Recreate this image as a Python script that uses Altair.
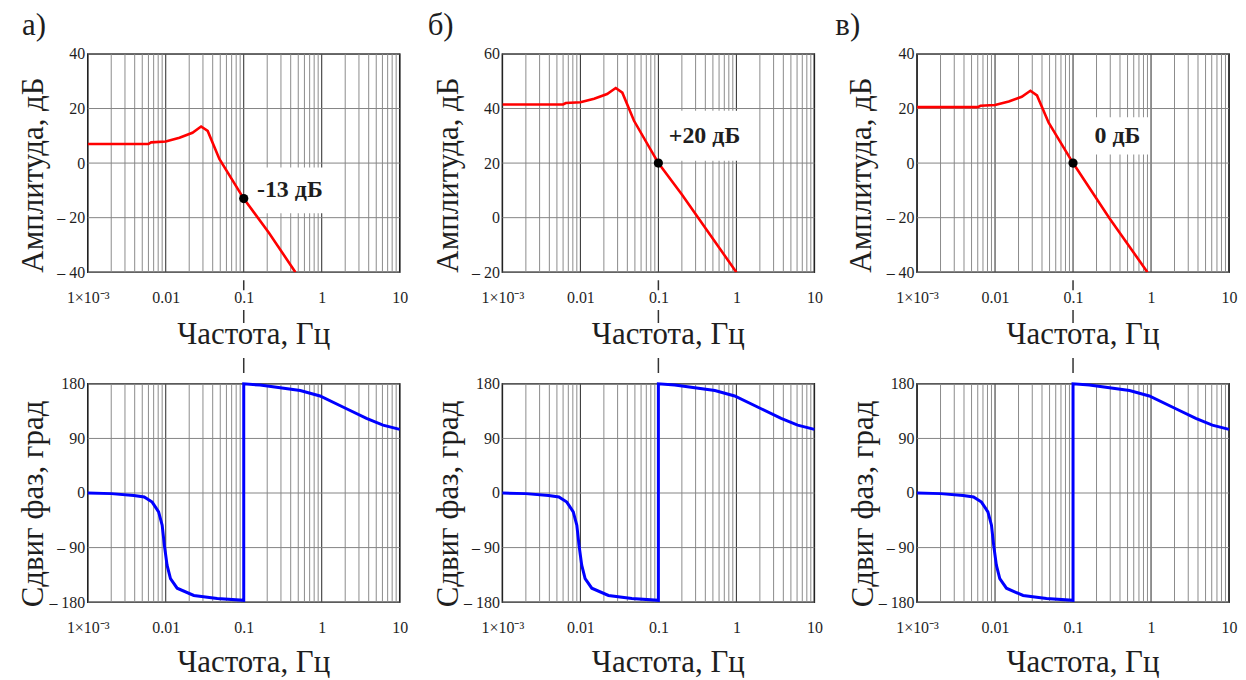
import altair as alt
import pandas as pd

# ---------------- data ----------------
panel_letters = ["а)", "б)", "в)"]

freq_a = [0.001, 0.006, 0.0065, 0.01, 0.015, 0.022, 0.0284, 0.0345, 0.0487, 0.1, 0.21, 0.46]
gain_a = [7.0, 7.0, 7.6, 7.9, 9.3, 11.1, 13.4, 11.8, 1.5, -13.0, -25.5, -40.0]

freq_b = [0.001, 0.006, 0.0065, 0.01, 0.015, 0.022, 0.0284, 0.0345, 0.0487, 0.1, 0.2, 1.0]
gain_b = [41.5, 41.5, 42.0, 42.3, 43.6, 45.3, 47.5, 45.8, 35.5, 20.0, 8.5, -20.0]

freq_c = [0.001, 0.006, 0.0065, 0.01, 0.015, 0.022, 0.0284, 0.0345, 0.0487, 0.1, 0.29, 0.9]
gain_c = [20.5, 20.5, 21.0, 21.3, 22.6, 24.3, 26.5, 24.8, 14.8, 0.0, -20.0, -40.0]

phase_freq = [0.001, 0.002, 0.0039, 0.0053, 0.0067, 0.0081, 0.009, 0.0096, 0.0104, 0.0115,
              0.014, 0.0229, 0.0457, 0.1, 0.1, 0.162, 0.53, 0.95, 2.08, 3.75, 6.1, 10.0]
phase_deg = [0, -1, -4, -6.5, -15, -31, -53, -86, -119, -141,
             -157, -169, -174, -177, 180, 178, 169, 160, 139, 123, 112, 105]

gain_domains = [[-40, 40], [-20, 60], [-40, 40]]
gain_ticks = [[-40, -20, 0, 20, 40], [-20, 0, 20, 40, 60], [-40, -20, 0, 20, 40]]
phase_domain = [-180, 180]
phase_ticks = [-180, -90, 0, 90, 180]

mark_freq = [0.1, 0.1, 0.1]
mark_gain = [-13, 20, 0]
mark_text = ["-13 дБ", "+20 дБ", "0 дБ"]
label_freq = [0.39, 0.39, 0.37]
label_gain = [-10, 30, 10]

x_decades = [0.001, 0.01, 0.1, 1, 10]
x_decade_labels = ["1×10⁻³", "0.01", "0.1", "1", "10"]
x_mantissas = [2, 3, 4, 5, 6, 7, 8, 9]

# ---------------- styling ----------------
SERIF = "Liberation Serif"
TXT = "#1e1e1e"
W, H = 313, 219
box_sizes = [5800, 7000, 3900]
title_dx = [-66, -75, -82]
ytitle_x = [-45, -45, -47]
BOX = "M-1,-0.6H1V0.6H-1Z"

minor_vals = [m * d for d in x_decades[:-1] for m in x_mantissas]
x_label_expr = " : ".join(
    f"datum.value == {v} ? '{lab}'" for v, lab in zip(x_decades, x_decade_labels)
) + " : ''"
y_label_expr = "datum.value < 0 ? '– ' + abs(datum.value) : '' + datum.value"

xscale = alt.Scale(type="log", domain=[x_decades[0], x_decades[-1]], nice=False)


def x_axis(ty):
    return alt.Axis(
        values=x_decades, labelExpr=x_label_expr, title="Частота, Гц",
        grid=False, ticks=False, tickSize=0, domain=False,
        labelFont=SERIF, labelFontSize=16, labelColor=TXT, labelBaseline="alphabetic",
        labelPadding=30, labelFlush=False, labelOverlap=False,
        titleFont=SERIF, titleFontSize=31, titleFontWeight="normal", titleColor=TXT,
        titleX=166, titleY=ty, titleAlign="center", titleBaseline="alphabetic",
    )


XAXIS_TOP = x_axis(72)
XAXIS_BOT = x_axis(70)


def y_axis(title, ticks, tx, ty):
    return alt.Axis(
        values=ticks, labelExpr=y_label_expr, title=title,
        grid=False, ticks=False, tickSize=0, domain=False,
        labelFont=SERIF, labelFontSize=16, labelColor=TXT, labelPadding=3,
        labelFlush=False, labelBaseline="middle", labelOverlap=False,
        titleFont=SERIF, titleFontSize=31, titleFontWeight="normal", titleColor=TXT,
        titleX=tx, titleY=ty, titleAngle=270, titleAlign="center", titleBaseline="alphabetic",
    )


def grid_layers(xax, ysc, yax, yticks):
    X = lambda: alt.X("f:Q", scale=xscale, axis=xax)
    minor = alt.Chart(pd.DataFrame({"f": minor_vals})).mark_rule(
        color="#8c8c8c", strokeWidth=1).encode(x=X())
    major = alt.Chart(pd.DataFrame({"f": x_decades})).mark_rule(
        color="#262626", strokeWidth=1).encode(x=X())
    hor = alt.Chart(pd.DataFrame({"g": yticks})).mark_rule(
        color="#858585", strokeWidth=1).encode(y=alt.Y("g:Q", scale=ysc, axis=yax))
    return [minor, major, hor]


def top_panel(k, freqs, gains):
    ysc = alt.Scale(domain=gain_domains[k], nice=False)
    yax = y_axis("Амплитуда, дБ", gain_ticks[k], ytitle_x[k], 121)
    X = lambda: alt.X("f:Q", scale=xscale, axis=XAXIS_TOP)
    Y = lambda: alt.Y("g:Q", scale=ysc, axis=yax)
    df = pd.DataFrame({"f": freqs, "g": gains, "i": list(range(len(freqs)))})
    lab = pd.DataFrame({"f": [label_freq[k]], "g": [label_gain[k]], "t": [mark_text[k]]})
    pt = pd.DataFrame({"f": [mark_freq[k]], "g": [mark_gain[k]]})

    line = alt.Chart(df).mark_line(color="#ff0000", strokeWidth=2.6, clip=True).encode(
        x=X(), y=Y(), order="i:Q")
    box = alt.Chart(lab).mark_point(shape=BOX, filled=True, color="white", opacity=1,
                                    size=box_sizes[k], strokeWidth=0).encode(x=X(), y=Y())
    text = alt.Chart(lab).mark_text(font=SERIF, fontSize=24, fontWeight="bold", color=TXT,
                                    align="center", baseline="middle").encode(
        x=X(), y=Y(), text="t:N")
    dot = alt.Chart(pt).mark_circle(size=85, color="black", opacity=1).encode(x=X(), y=Y())
    return alt.layer(*grid_layers(XAXIS_TOP, ysc, yax, gain_ticks[k]),
                     box, line, dot, text).properties(
        width=W, height=H,
        title=alt.TitleParams(text=panel_letters[k], anchor="start", frame="group",
                              dx=title_dx[k], dy=37, offset=17, font=SERIF, fontSize=31,
                              fontWeight="normal", color=TXT, baseline="alphabetic"),
    )


def bottom_panel(k):
    ysc = alt.Scale(domain=phase_domain, nice=False)
    yax = y_axis("Сдвиг фаз, град", phase_ticks, -45, 120)
    X = lambda: alt.X("f:Q", scale=xscale, axis=XAXIS_BOT)
    df = pd.DataFrame({"f": phase_freq, "g": phase_deg, "i": list(range(len(phase_freq)))})
    pt = pd.DataFrame({"f": [mark_freq[k]]})
    line = alt.Chart(df).mark_line(color="#0000ff", strokeWidth=3).encode(
        x=X(), y=alt.Y("g:Q", scale=ysc, axis=yax), order="i:Q")
    conn = alt.Chart(pt).mark_rule(color="#333333", strokeWidth=1.5,
                                   strokeDash=[10, 20, 13, 35, 15, 20]).encode(
        x=X(), y=alt.value(-104), y2=alt.value(0))
    return alt.layer(*grid_layers(XAXIS_BOT, ysc, yax, phase_ticks),
                     line, conn).properties(width=W, height=H)


tops = [top_panel(0, freq_a, gain_a), top_panel(1, freq_b, gain_b), top_panel(2, freq_c, gain_c)]
bottoms = [bottom_panel(k) for k in range(3)]

chart = alt.concat(
    *tops, *bottoms, columns=3, spacing={"row": 112, "column": 103}, bounds="flush",
).properties(
    padding={"left": 9, "top": 0, "right": 0, "bottom": 0},
    background="white",
).configure_view(stroke="#111111", strokeWidth=1.5)

chart.save("out.html", embed_options={"renderer": "svg", "actions": False})
